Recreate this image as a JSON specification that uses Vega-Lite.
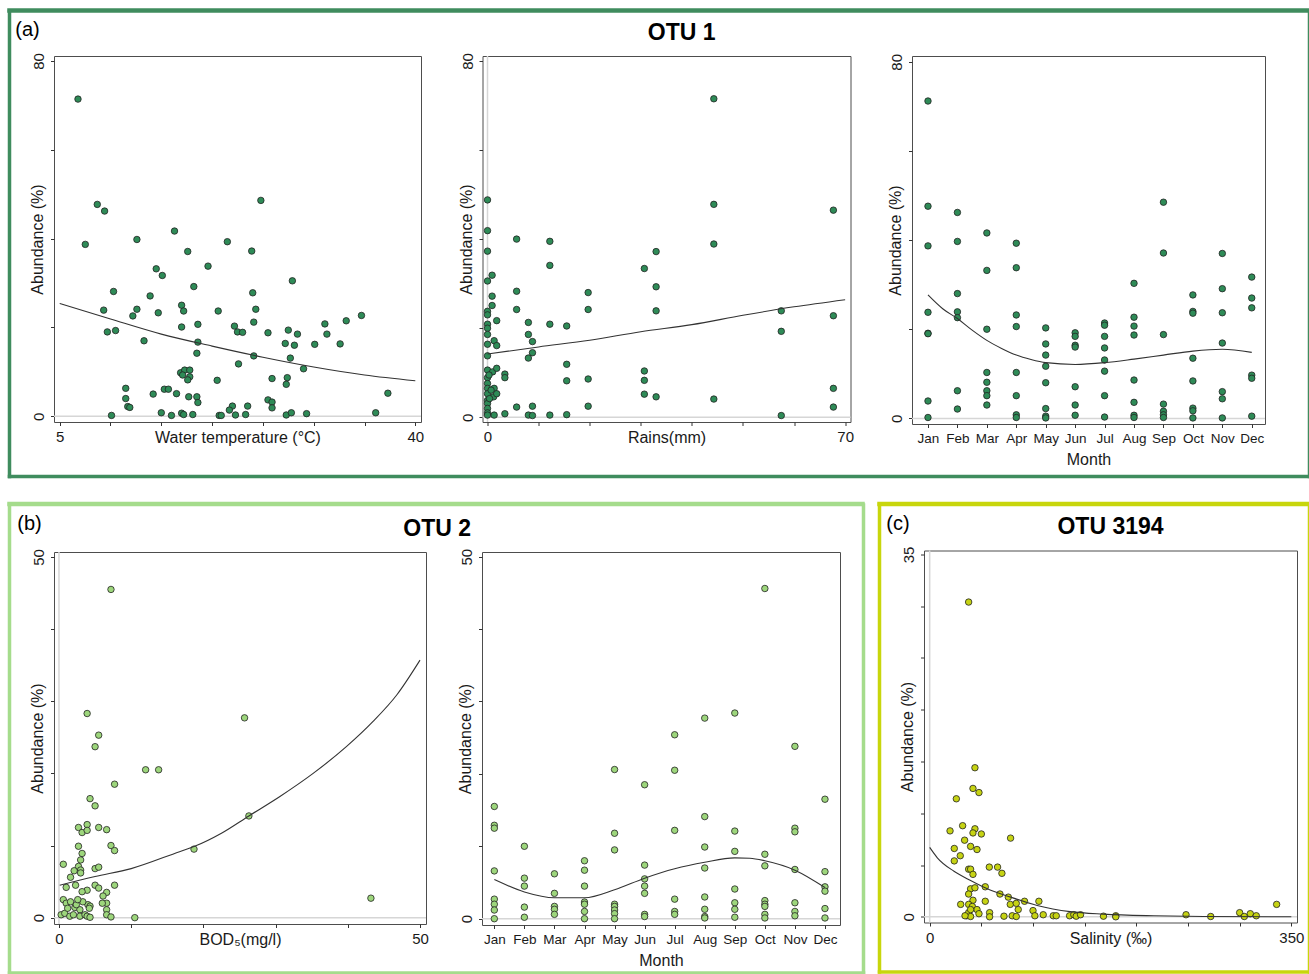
{
"$schema": "https://vega.github.io/schema/vega-lite/v6.json",
"padding": {"left": 4, "top": 6, "right": 0, "bottom": 0},
"background": "white",
"config": {
  "font": "Liberation Sans",
  "view": {"stroke": "#4d4d4d", "strokeWidth": 1},
  "axis": {"domain": false, "grid": false, "tickColor": "#333333", "tickSize": 3.5, "labelFontSize": 15, "labelColor": "#1a1a1a", "titleFontSize": 16, "titleFontWeight": "normal", "titleColor": "#1a1a1a", "labelOverlap": false, "labelFlush": false},
  "axisY": {"labelAngle": -90, "labelAlign": "center", "labelBaseline": "bottom", "labelPadding": 4, "titlePadding": -14},
  "axisX": {"labelPadding": 4, "titlePadding": -15},
  "title": {"fontSize": 23, "fontWeight": "bold", "color": "#000000", "anchor": "middle"}
},
"datasets": {
  "a1": [{"x":6.8,"y":71.4},{"x":8.7,"y":47.7},{"x":9.42,"y":46.2},{"x":7.52,"y":38.7},{"x":12.6,"y":39.8},{"x":16.3,"y":41.7},{"x":24.8,"y":48.6},{"x":21.5,"y":39.3},{"x":17.6,"y":37.1},{"x":23.9,"y":37.2},{"x":19.6,"y":33.8},{"x":14.5,"y":33.2},{"x":15.1,"y":31.7},{"x":27.9,"y":30.5},{"x":18.2,"y":29.2},{"x":10.3,"y":28.1},{"x":13.9,"y":27.1},{"x":24.0,"y":27.8},{"x":9.33,"y":23.9},{"x":12.6,"y":24.1},{"x":12.2,"y":22.6},{"x":14.7,"y":23.3},{"x":17.0,"y":25.0},{"x":17.2,"y":23.7},{"x":20.6,"y":23.7},{"x":24.3,"y":24.1},{"x":24.1,"y":21.2},{"x":18.6,"y":20.7},{"x":22.2,"y":20.3},{"x":22.5,"y":19.0},{"x":23.0,"y":18.9},{"x":17.0,"y":20.1},{"x":9.69,"y":19.0},{"x":10.5,"y":19.3},{"x":25.5,"y":18.8},{"x":27.5,"y":19.4},{"x":28.4,"y":18.5},{"x":31.1,"y":20.8},{"x":31.3,"y":18.5},{"x":33.2,"y":21.5},{"x":34.7,"y":22.7},{"x":13.3,"y":17.0},{"x":18.6,"y":16.7},{"x":18.5,"y":14.2},{"x":27.2,"y":16.4},{"x":28.1,"y":16.0},{"x":30.1,"y":16.2},{"x":32.6,"y":16.3},{"x":24.1,"y":13.6},{"x":27.7,"y":13.1},{"x":22.6,"y":11.8},{"x":29.0,"y":10.7},{"x":16.9,"y":9.8},{"x":17.3,"y":10.4},{"x":17.8,"y":10.4},{"x":17.8,"y":8.9},{"x":17.6,"y":8.2},{"x":17.1,"y":9.3},{"x":20.5,"y":8.1},{"x":25.9,"y":8.5},{"x":27.4,"y":8.7},{"x":27.3,"y":7.2},{"x":11.5,"y":6.3},{"x":15.3,"y":6.1},{"x":15.7,"y":6.1},{"x":14.2,"y":5.0},{"x":16.5,"y":5.1},{"x":17.7,"y":4.4},{"x":18.5,"y":4.4},{"x":18.6,"y":3.1},{"x":11.5,"y":4.0},{"x":11.7,"y":2.2},{"x":11.9,"y":2.0},{"x":25.5,"y":3.7},{"x":25.9,"y":3.2},{"x":25.9,"y":1.9},{"x":23.5,"y":2.3},{"x":22.0,"y":2.3},{"x":21.7,"y":1.4},{"x":37.3,"y":5.2},{"x":36.1,"y":0.8},{"x":10.1,"y":0.2},{"x":15.0,"y":0.8},{"x":16.0,"y":0.2},{"x":17.0,"y":0.7},{"x":17.2,"y":0.4},{"x":18.1,"y":0.4},{"x":20.7,"y":0.2},{"x":20.9,"y":0.2},{"x":22.3,"y":0.3},{"x":23.3,"y":0.4},{"x":27.3,"y":0.3},{"x":27.8,"y":0.8},{"x":29.3,"y":0.6}],
  "a1fit": [{"x":5,"y":25.4},{"x":10,"y":21.9},{"x":15,"y":18.5},{"x":20,"y":15.8},{"x":25,"y":13.3},{"x":30,"y":11.1},{"x":35,"y":9.3},{"x":40,"y":8.0}],
  "a2": [{"x":44.3,"y":71.5},{"x":44.3,"y":47.8},{"x":44.3,"y":38.9},{"x":67.7,"y":46.5},{"x":0,"y":48.8},{"x":0,"y":41.9},{"x":0,"y":37.3},{"x":0,"y":30.6},{"x":0.9,"y":31.9},{"x":0.9,"y":27.2},{"x":0.9,"y":25.1},{"x":0,"y":23.8},{"x":0,"y":23.0},{"x":0,"y":20.9},{"x":0,"y":20.0},{"x":0,"y":18.6},{"x":0,"y":16.4},{"x":0,"y":13.8},{"x":1.3,"y":17.2},{"x":1.8,"y":16.1},{"x":1.8,"y":21.7},{"x":5.7,"y":40.0},{"x":5.7,"y":28.3},{"x":5.7,"y":24.2},{"x":12.2,"y":39.5},{"x":12.2,"y":34.1},{"x":12.2,"y":20.9},{"x":8.0,"y":21.3},{"x":8.0,"y":18.6},{"x":8.8,"y":17.0},{"x":8.8,"y":14.5},{"x":8.0,"y":13.3},{"x":15.5,"y":20.5},{"x":15.5,"y":11.9},{"x":15.5,"y":8.2},{"x":19.7,"y":28.0},{"x":19.7,"y":24.2},{"x":19.7,"y":8.6},{"x":19.7,"y":2.5},{"x":30.7,"y":33.4},{"x":33.0,"y":37.2},{"x":33.0,"y":29.3},{"x":33.0,"y":23.9},{"x":30.7,"y":10.4},{"x":30.7,"y":8.3},{"x":30.7,"y":5.2},{"x":33.0,"y":4.6},{"x":44.3,"y":4.1},{"x":57.5,"y":23.9},{"x":57.5,"y":19.3},{"x":57.5,"y":0.4},{"x":67.7,"y":22.8},{"x":67.7,"y":6.5},{"x":67.7,"y":2.3},{"x":0,"y":10.6},{"x":0,"y":8.9},{"x":0,"y":7.6},{"x":0,"y":6.5},{"x":0,"y":5.3},{"x":0,"y":3.8},{"x":0,"y":3.1},{"x":0,"y":2.0},{"x":0,"y":1.0},{"x":0,"y":0.5},{"x":1.0,"y":10.2},{"x":1.3,"y":6.5},{"x":1.2,"y":4.6},{"x":1.8,"y":5.3},{"x":1.8,"y":11.0},{"x":1.3,"y":0.5},{"x":3.4,"y":9.7},{"x":3.4,"y":8.9},{"x":3.4,"y":0.8},{"x":5.7,"y":2.3},{"x":8.0,"y":0.5},{"x":8.8,"y":2.5},{"x":8.8,"y":0.4},{"x":12.2,"y":0.5},{"x":15.5,"y":0.6},{"x":0.7,"y":6.1},{"x":0.4,"y":4.2},{"x":0.3,"y":9.5}],
  "a2fit": [{"x":0,"y":14.2},{"x":10,"y":15.8},{"x":20,"y":17.3},{"x":30,"y":19.2},{"x":40,"y":20.8},{"x":50,"y":22.9},{"x":60,"y":24.8},{"x":70,"y":26.4}],
  "a3": [{"m":1,"y":71.2},{"m":1,"y":47.6},{"m":1,"y":38.7},{"m":1,"y":23.8},{"m":1,"y":19.1},{"m":1,"y":19.0},{"m":1,"y":3.9},{"m":1,"y":0.2},
         {"m":2,"y":46.2},{"m":2,"y":39.7},{"m":2,"y":28.0},{"m":2,"y":23.9},{"m":2,"y":22.6},{"m":2,"y":6.2},{"m":2,"y":2.1},
         {"m":3,"y":41.6},{"m":3,"y":33.2},{"m":3,"y":20.0},{"m":3,"y":10.3},{"m":3,"y":8.1},{"m":3,"y":6.2},{"m":3,"y":5.1},{"m":3,"y":3.0},
         {"m":4,"y":39.3},{"m":4,"y":33.8},{"m":4,"y":23.2},{"m":4,"y":20.6},{"m":4,"y":10.3},{"m":4,"y":5.1},{"m":4,"y":0.8},{"m":4,"y":0.2},
         {"m":5,"y":20.3},{"m":5,"y":16.7},{"m":5,"y":14.2},{"m":5,"y":11.7},{"m":5,"y":8.0},{"m":5,"y":2.2},{"m":5,"y":0.5},{"m":5,"y":0.1},
         {"m":6,"y":19.2},{"m":6,"y":18.4},{"m":6,"y":16.4},{"m":6,"y":16.0},{"m":6,"y":7.1},{"m":6,"y":3.0},{"m":6,"y":0.7},
         {"m":7,"y":21.4},{"m":7,"y":20.9},{"m":7,"y":18.4},{"m":7,"y":15.8},{"m":7,"y":13.1},{"m":7,"y":10.6},{"m":7,"y":5.1},{"m":7,"y":0.3},
         {"m":8,"y":30.3},{"m":8,"y":22.7},{"m":8,"y":20.7},{"m":8,"y":18.7},{"m":8,"y":8.6},{"m":8,"y":3.6},{"m":8,"y":0.7},{"m":8,"y":0.2},
         {"m":9,"y":48.5},{"m":9,"y":37.1},{"m":9,"y":18.8},{"m":9,"y":3.2},{"m":9,"y":1.6},{"m":9,"y":0.8},{"m":9,"y":0.2},
         {"m":10,"y":27.7},{"m":10,"y":24.0},{"m":10,"y":23.6},{"m":10,"y":13.5},{"m":10,"y":8.4},{"m":10,"y":2.3},{"m":10,"y":1.7},{"m":10,"y":0.1},
         {"m":11,"y":37.0},{"m":11,"y":29.1},{"m":11,"y":23.7},{"m":11,"y":16.9},{"m":11,"y":6.0},{"m":11,"y":4.4},{"m":11,"y":0.1},
         {"m":12,"y":31.7},{"m":12,"y":27.0},{"m":12,"y":24.8},{"m":12,"y":9.7},{"m":12,"y":9.0},{"m":12,"y":0.5}],
  "a3fit": [{"m":1,"y":27.7},{"m":1.5,"y":24.6},{"m":2,"y":22.4},{"m":2.5,"y":19.8},{"m":3,"y":17.5},{"m":3.5,"y":15.7},{"m":4,"y":14.2},{"m":4.5,"y":13.2},{"m":5,"y":12.5},{"m":6,"y":12.1},{"m":7,"y":12.5},{"m":8,"y":13.3},{"m":9,"y":14.2},{"m":10,"y":15.1},{"m":11,"y":15.5},{"m":12,"y":14.8}],
  "b1": [{"x":7.2,"y":45.5},{"x":3.9,"y":28.3},{"x":5.5,"y":25.3},{"x":5.0,"y":23.7},{"x":25.7,"y":27.7},{"x":12.0,"y":20.5},{"x":13.8,"y":20.5},{"x":7.7,"y":18.5},{"x":4.3,"y":16.5},{"x":5.0,"y":15.5},{"x":26.3,"y":14.1},{"x":2.7,"y":12.5},{"x":3.9,"y":12.9},{"x":3.2,"y":11.8},{"x":3.9,"y":12.1},{"x":5.5,"y":12.5},{"x":6.6,"y":12.2},{"x":7.2,"y":10.0},{"x":7.7,"y":9.3},{"x":2.7,"y":9.9},{"x":3.2,"y":8.9},{"x":18.7,"y":9.5},{"x":0.6,"y":7.4},{"x":3.0,"y":8.0},{"x":2.7,"y":7.1},{"x":2.1,"y":6.5},{"x":3.0,"y":6.6},{"x":3.0,"y":6.2},{"x":1.6,"y":5.6},{"x":2.3,"y":4.5},{"x":5.0,"y":6.8},{"x":5.5,"y":7.0},{"x":1.0,"y":4.2},{"x":5.0,"y":4.5},{"x":5.5,"y":4.1},{"x":3.9,"y":3.8},{"x":3.2,"y":3.6},{"x":7.7,"y":4.5},{"x":6.6,"y":3.5},{"x":6.1,"y":3.0},{"x":6.6,"y":2.0},{"x":0.6,"y":2.5},{"x":1.0,"y":2.0},{"x":1.6,"y":2.2},{"x":2.2,"y":1.4},{"x":2.9,"y":1.1},{"x":4.0,"y":1.8},{"x":4.3,"y":1.6},{"x":4.2,"y":1.3},{"x":3.3,"y":2.2},{"x":6.0,"y":2.0},{"x":6.6,"y":1.1},{"x":0.3,"y":0.4},{"x":0.8,"y":0.6},{"x":1.5,"y":0.2},{"x":2.0,"y":0.4},{"x":2.9,"y":0.2},{"x":3.6,"y":0.4},{"x":3.9,"y":0.2},{"x":4.3,"y":0.05},{"x":6.6,"y":0.4},{"x":7.2,"y":0.1},{"x":10.5,"y":0},{"x":43.2,"y":2.7},{"x":2.4,"y":1.8},{"x":1.2,"y":1.3},{"x":2.6,"y":2.5}],
  "b1fit": [{"x":0.1,"y":4.5},{"x":5,"y":5.7},{"x":10,"y":6.8},{"x":16.7,"y":9.15},{"x":18.7,"y":9.85},{"x":22.5,"y":11.7},{"x":26.3,"y":14.1},{"x":30.6,"y":16.8},{"x":35.2,"y":20.0},{"x":39.8,"y":23.7},{"x":43.5,"y":27.2},{"x":46.8,"y":30.9},{"x":50,"y":35.7}],
  "b2": [{"m":1,"y":15.5},{"m":1,"y":12.9},{"m":1,"y":12.5},{"m":1,"y":6.6},{"m":1,"y":2.7},{"m":1,"y":2.0},{"m":1,"y":1.2},{"m":1,"y":0},
         {"m":2,"y":10.0},{"m":2,"y":5.6},{"m":2,"y":4.5},{"m":2,"y":1.6},{"m":2,"y":0.2},
         {"m":3,"y":6.2},{"m":3,"y":3.5},{"m":3,"y":1.7},{"m":3,"y":1.3},{"m":3,"y":0.6},
         {"m":4,"y":8.0},{"m":4,"y":6.7},{"m":4,"y":4.5},{"m":4,"y":2.3},{"m":4,"y":2.0},{"m":4,"y":1.0},{"m":4,"y":0},
         {"m":5,"y":20.6},{"m":5,"y":11.8},{"m":5,"y":9.5},{"m":5,"y":2.0},{"m":5,"y":1.7},{"m":5,"y":1.2},{"m":5,"y":0.7},{"m":5,"y":0},
         {"m":6,"y":18.5},{"m":6,"y":7.4},{"m":6,"y":5.5},{"m":6,"y":4.5},{"m":6,"y":3.5},{"m":6,"y":0.6},{"m":6,"y":0.3},
         {"m":7,"y":25.4},{"m":7,"y":20.5},{"m":7,"y":12.2},{"m":7,"y":2.7},{"m":7,"y":1.0},{"m":7,"y":0.6},
         {"m":8,"y":27.7},{"m":8,"y":14.1},{"m":8,"y":9.9},{"m":8,"y":7.0},{"m":8,"y":3.0},{"m":8,"y":1.3},{"m":8,"y":0.3},{"m":8,"y":0.1},
         {"m":9,"y":28.4},{"m":9,"y":12.1},{"m":9,"y":9.3},{"m":9,"y":4.1},{"m":9,"y":2.2},{"m":9,"y":1.3},{"m":9,"y":0.2},
         {"m":10,"y":45.6},{"m":10,"y":8.9},{"m":10,"y":7.3},{"m":10,"y":2.5},{"m":10,"y":2.0},{"m":10,"y":1.7},{"m":10,"y":0.6},{"m":10,"y":0.1},
         {"m":11,"y":23.8},{"m":11,"y":12.5},{"m":11,"y":12.0},{"m":11,"y":6.8},{"m":11,"y":2.2},{"m":11,"y":1.0},{"m":11,"y":0.4},
         {"m":12,"y":16.5},{"m":12,"y":6.5},{"m":12,"y":4.4},{"m":12,"y":3.8},{"m":12,"y":1.4},{"m":12,"y":0.1}],
  "b2fit": [{"m":1,"y":5.4},{"m":2,"y":3.7},{"m":3,"y":2.9},{"m":4,"y":2.9},{"m":5,"y":4.0},{"m":6,"y":5.6},{"m":7,"y":6.9},{"m":8,"y":7.8},{"m":9,"y":8.4},{"m":9.5,"y":8.35},{"m":10,"y":8.0},{"m":11,"y":6.7},{"m":12,"y":4.3}],
  "c": [{"x":37.7,"y":30.4},{"x":43.8,"y":14.4},{"x":41.9,"y":12.4},{"x":47.7,"y":12.0},{"x":25.8,"y":11.4},{"x":31.9,"y":8.8},{"x":19.7,"y":8.3},{"x":43.8,"y":8.5},{"x":41.9,"y":8.1},{"x":50.0,"y":8.0},{"x":33.8,"y":7.4},{"x":78.3,"y":7.6},{"x":23.8,"y":6.6},{"x":39.6,"y":6.8},{"x":45.8,"y":6.5},{"x":29.6,"y":5.9},{"x":23.8,"y":5.4},{"x":37.7,"y":4.6},{"x":39.6,"y":4.6},{"x":41.9,"y":4.1},{"x":57.7,"y":4.8},{"x":65.7,"y":4.8},{"x":69.9,"y":4.2},{"x":53.8,"y":2.9},{"x":39.6,"y":2.7},{"x":43.8,"y":2.8},{"x":37.7,"y":2.2},{"x":41.9,"y":1.6},{"x":68.0,"y":2.2},{"x":76.1,"y":1.9},{"x":53.8,"y":1.5},{"x":30.0,"y":1.2},{"x":37.7,"y":1.2},{"x":41.3,"y":1.0},{"x":45.8,"y":0.7},{"x":47.7,"y":0.3},{"x":35.8,"y":0.1},{"x":37.7,"y":0.4},{"x":39.6,"y":0.03},{"x":78.0,"y":1.2},{"x":83.8,"y":1.3},{"x":85.7,"y":0.7},{"x":91.8,"y":1.5},{"x":100,"y":0.6},{"x":105.7,"y":1.5},{"x":58.0,"y":0.4},{"x":58.0,"y":0},{"x":71.9,"y":0.06},{"x":79.9,"y":0.1},{"x":83.8,"y":0.03},{"x":101.8,"y":0.1},{"x":109.9,"y":0.2},{"x":119.6,"y":0.1},{"x":122.5,"y":0.1},{"x":135.4,"y":0.1},{"x":139.5,"y":0.2},{"x":141.8,"y":0.06},{"x":146,"y":0.2},{"x":168.2,"y":0.06},{"x":180.1,"y":0.1},{"x":180.1,"y":0},{"x":248.1,"y":0.2},{"x":272.0,"y":0.03},{"x":300,"y":0.4},{"x":304.5,"y":0.03},{"x":310.3,"y":0.3},{"x":316.1,"y":0.1},{"x":335.8,"y":1.2},{"x":34.2,"y":0.1},{"x":39.6,"y":0.7}],
  "cfit": [{"x":0,"y":6.7},{"x":7.4,"y":5.7},{"x":23.5,"y":4.4},{"x":39.6,"y":3.5},{"x":55.8,"y":2.7},{"x":78.3,"y":1.9},{"x":104,"y":1.1},{"x":136,"y":0.5},{"x":168,"y":0.26},{"x":217,"y":0.1},{"x":265,"y":0.03},{"x":350,"y":0}]
},
"vconcat": [
  {
    "bounds": "flush",
    "spacing": 45,
    "vconcat": [
      {
        "width": 1300, "height": 1,
        "view": {"stroke": "#3f8c5e", "strokeWidth": 3.5},
        "title": {"text": "(a)", "anchor": "start", "fontSize": 20, "fontWeight": "normal", "offset": -32, "dx": 9},
        "data": {"values": [{}]},
        "mark": {"type": "point", "opacity": 0},
        "encoding": {
          "x": {"datum": 0, "type": "quantitative", "scale": {"domain": [0, 1], "nice": false, "zero": false}, "axis": {"orient": "bottom", "values": [0, 1], "tickSize": 465, "tickColor": "#3f8c5e", "tickWidth": 3.5, "tickCap": "square", "labels": false, "domain": false, "title": null}},
          "y": {"datum": 0, "type": "quantitative", "scale": {"domain": [0, 1], "nice": false, "zero": false}, "axis": {"orient": "left", "values": [1], "position": 466, "offset": -1300, "tickSize": 1300, "tickColor": "#3f8c5e", "tickWidth": 3.5, "tickCap": "square", "labels": false, "domain": false, "title": null}}
        }
      },
      {
        "spacing": 0,
        "hconcat": [
          {"width": 20, "height": 1, "view": {"stroke": null}, "data": {"values": [{}]}, "mark": {"type": "point", "opacity": 0}, "encoding": {}},
          {
            "title": {"text": "OTU 1", "dx": 34, "offset": 7},
            "spacing": 32.5,
            "hconcat": [
              {
                "width": 367, "height": 366,
                "layer": [
                  {"data": {"values": [{}]}, "mark": {"type": "rule", "color": "#d6d6d6", "strokeWidth": 1.5}, "encoding": {"y": {"datum": 0}}},
                  {"data": {"name": "a1"}, "mark": {"type": "circle", "size": 42, "color": "#2e8b57", "stroke": "#222222", "strokeWidth": 0.8, "opacity": 1},
                   "encoding": {
                     "x": {"field": "x", "type": "quantitative", "scale": {"domain": [4.44, 40.56], "nice": false, "zero": false},
                           "axis": {"title": "Water temperature (°C)", "values": [5,10,15,20,25,30,35,40], "tickCount": 20, "labelOverlap": false, "labelExpr": "datum.value == 5 || datum.value == 40 ? datum.label : ''"}},
                     "y": {"field": "y", "type": "quantitative", "scale": {"domain": [-1.28, 81.1], "nice": false, "zero": false},
                           "axis": {"title": "Abundance (%)", "values": [0,20,40,60,80], "tickCount": 20, "labelOverlap": false, "labelExpr": "datum.value == 0 || datum.value == 80 ? datum.label : ''"}}
                   }},
                  {"data": {"name": "a1fit"}, "mark": {"type": "line", "color": "#333333", "strokeWidth": 1.1, "interpolate": "monotone"},
                   "encoding": {"x": {"field": "x", "type": "quantitative"}, "y": {"field": "y", "type": "quantitative"}}}
                ]
              },
              {
                "width": 368, "height": 366,
                "layer": [
                  {"data": {"values": [{}]}, "mark": {"type": "rule", "color": "#d6d6d6", "strokeWidth": 1.5}, "encoding": {"y": {"datum": 0}}},
                  {"data": {"values": [{}]}, "mark": {"type": "rule", "color": "#d6d6d6", "strokeWidth": 1.5}, "encoding": {"x": {"datum": 0}}},
                  {"data": {"name": "a2"}, "mark": {"type": "circle", "size": 42, "color": "#2e8b57", "stroke": "#222222", "strokeWidth": 0.8, "opacity": 1},
                   "encoding": {
                     "x": {"field": "x", "type": "quantitative", "scale": {"domain": [-0.98, 71.05], "nice": false, "zero": false},
                           "axis": {"title": "Rains(mm)", "values": [0,10,20,30,40,50,60,70], "tickCount": 20, "labelOverlap": false, "labelExpr": "datum.value == 0 || datum.value == 70 ? datum.label : ''"}},
                     "y": {"field": "y", "type": "quantitative", "scale": {"domain": [-1.05, 81.1], "nice": false, "zero": false},
                           "axis": {"title": "Abundance (%)", "values": [0,20,40,60,80], "tickCount": 20, "labelOverlap": false, "labelExpr": "datum.value == 0 || datum.value == 80 ? datum.label : ''"}}
                   }},
                  {"data": {"name": "a2fit"}, "mark": {"type": "line", "color": "#333333", "strokeWidth": 1.1, "interpolate": "monotone"},
                   "encoding": {"x": {"field": "x", "type": "quantitative"}, "y": {"field": "y", "type": "quantitative"}}}
                ]
              },
              {
                "width": 353, "height": 368,
                "layer": [
                  {"data": {"values": [{}]}, "mark": {"type": "rule", "color": "#d6d6d6", "strokeWidth": 1.5}, "encoding": {"y": {"datum": 0}}},
                  {"data": {"name": "a3"}, "mark": {"type": "circle", "size": 42, "color": "#2e8b57", "stroke": "#222222", "strokeWidth": 0.8, "opacity": 1},
                   "encoding": {
                     "x": {"field": "m", "type": "quantitative", "scale": {"domain": [0.457, 12.45], "nice": false, "zero": false},
                           "axis": {"title": "Month", "titlePadding": 6, "labelFontSize": 13.5, "tickCount": 30, "labelOverlap": false, "labelSeparation": 0, "values": [1,2,3,4,5,6,7,8,9,10,11,12], "labelExpr": "['Jan','Feb','Mar','Apr','May','Jun','Jul','Aug','Sep','Oct','Nov','Dec'][datum.value - 1]"}},
                     "y": {"field": "y", "type": "quantitative", "scale": {"domain": [-1.26, 81.3], "nice": false, "zero": false},
                           "axis": {"title": "Abundance (%)", "values": [0,20,40,60,80], "tickCount": 20, "labelOverlap": false, "labelExpr": "datum.value == 0 || datum.value == 80 ? datum.label : ''"}}
                   }},
                  {"data": {"name": "a3fit"}, "mark": {"type": "line", "color": "#333333", "strokeWidth": 1.1, "interpolate": "monotone"},
                   "encoding": {"x": {"field": "m", "type": "quantitative"}, "y": {"field": "y", "type": "quantitative"}}}
                ]
              }
            ]
          }
        ]
      }
    ]
  },
  {
    "spacing": 6,
    "hconcat": [
      {
        "bounds": "flush",
        "spacing": 47.5,
        "vconcat": [
          {
            "width": 854, "height": 1,
            "view": {"stroke": "#a5dc8c", "strokeWidth": 3.5},
            "title": {"text": "(b)", "anchor": "start", "fontSize": 20, "fontWeight": "normal", "offset": -32, "dx": 11},
            "data": {"values": [{}]},
            "mark": {"type": "point", "opacity": 0},
            "encoding": {
              "x": {"datum": 0, "type": "quantitative", "scale": {"domain": [0, 1], "nice": false, "zero": false}, "axis": {"orient": "bottom", "values": [0, 1], "tickSize": 468, "tickColor": "#a5dc8c", "tickWidth": 3.5, "tickCap": "square", "labels": false, "domain": false, "title": null}},
              "y": {"datum": 0, "type": "quantitative", "scale": {"domain": [0, 1], "nice": false, "zero": false}, "axis": {"orient": "left", "values": [1], "position": 469, "offset": -854, "tickSize": 854, "tickColor": "#a5dc8c", "tickWidth": 3.5, "tickCap": "square", "labels": false, "domain": false, "title": null}}
            }
          },
          {
            "spacing": 0,
            "hconcat": [
              {"width": 20, "height": 1, "view": {"stroke": null}, "data": {"values": [{}]}, "mark": {"type": "point", "opacity": 0}, "encoding": {}},
              {
                "title": {"text": "OTU 2", "dx": 2, "offset": 7},
                "spacing": 28,
                "hconcat": [
                  {
                    "width": 372, "height": 372,
                    "layer": [
                      {"data": {"values": [{}]}, "mark": {"type": "rule", "color": "#d6d6d6", "strokeWidth": 1.5}, "encoding": {"y": {"datum": 0}}},
                      {"data": {"values": [{}]}, "mark": {"type": "rule", "color": "#d6d6d6", "strokeWidth": 1.5}, "encoding": {"x": {"datum": 0}}},
                      {"data": {"name": "b1"}, "mark": {"type": "circle", "size": 42, "color": "#9dd67c", "stroke": "#222222", "strokeWidth": 0.8, "opacity": 1},
                       "encoding": {
                         "x": {"field": "x", "type": "quantitative", "scale": {"domain": [-0.69, 50.83], "nice": false, "zero": false},
                               "axis": {"title": "BOD₅(mg/l)", "values": [0,10,20,30,40,50], "tickCount": 20, "labelOverlap": false, "labelExpr": "datum.value == 0 || datum.value == 50 ? datum.label : ''"}},
                         "y": {"field": "y", "type": "quantitative", "scale": {"domain": [-0.88, 50.69], "nice": false, "zero": false},
                               "axis": {"title": "Abundance (%)", "values": [0,10,20,30,40,50], "tickCount": 20, "labelOverlap": false, "labelExpr": "datum.value == 0 || datum.value == 50 ? datum.label : ''"}}
                       }},
                      {"data": {"name": "b1fit"}, "mark": {"type": "line", "color": "#333333", "strokeWidth": 1.1, "interpolate": "monotone"},
                       "encoding": {"x": {"field": "x", "type": "quantitative"}, "y": {"field": "y", "type": "quantitative"}}}
                    ]
                  },
                  {
                    "width": 358, "height": 373,
                    "layer": [
                      {"data": {"values": [{}]}, "mark": {"type": "rule", "color": "#d6d6d6", "strokeWidth": 1.5}, "encoding": {"y": {"datum": 0}}},
                      {"data": {"name": "b2"}, "mark": {"type": "circle", "size": 42, "color": "#9dd67c", "stroke": "#222222", "strokeWidth": 0.8, "opacity": 1},
                       "encoding": {
                         "x": {"field": "m", "type": "quantitative", "scale": {"domain": [0.59, 12.5], "nice": false, "zero": false},
                               "axis": {"title": "Month", "titlePadding": 6, "labelFontSize": 13.5, "tickCount": 30, "labelOverlap": false, "labelSeparation": 0, "values": [1,2,3,4,5,6,7,8,9,10,11,12], "labelExpr": "['Jan','Feb','Mar','Apr','May','Jun','Jul','Aug','Sep','Oct','Nov','Dec'][datum.value - 1]"}},
                         "y": {"field": "y", "type": "quantitative", "scale": {"domain": [-0.87, 50.64], "nice": false, "zero": false},
                               "axis": {"title": "Abundance (%)", "values": [0,10,20,30,40,50], "tickCount": 20, "labelOverlap": false, "labelExpr": "datum.value == 0 || datum.value == 50 ? datum.label : ''"}}
                       }},
                      {"data": {"name": "b2fit"}, "mark": {"type": "line", "color": "#333333", "strokeWidth": 1.1, "interpolate": "monotone"},
                       "encoding": {"x": {"field": "m", "type": "quantitative"}, "y": {"field": "y", "type": "quantitative"}}}
                    ]
                  }
                ]
              }
            ]
          }
        ]
      },
      {
        "bounds": "flush",
        "spacing": 46,
        "vconcat": [
          {
            "width": 430, "height": 1,
            "view": {"stroke": "#c8d60c", "strokeWidth": 3.5},
            "title": {"text": "(c)", "anchor": "start", "fontSize": 20, "fontWeight": "normal", "offset": -32, "dx": 10},
            "data": {"values": [{}]},
            "mark": {"type": "point", "opacity": 0},
            "encoding": {
              "x": {"datum": 0, "type": "quantitative", "scale": {"domain": [0, 1], "nice": false, "zero": false}, "axis": {"orient": "bottom", "values": [0, 1], "tickSize": 467, "tickColor": "#c8d60c", "tickWidth": 3.5, "tickCap": "square", "labels": false, "domain": false, "title": null}},
              "y": {"datum": 0, "type": "quantitative", "scale": {"domain": [0, 1], "nice": false, "zero": false}, "axis": {"orient": "left", "values": [1], "position": 468, "offset": -430, "tickSize": 430, "tickColor": "#c8d60c", "tickWidth": 3.5, "tickCap": "square", "labels": false, "domain": false, "title": null}}
            }
          },
          {
            "spacing": 0,
            "hconcat": [
              {"width": 19.6, "height": 1, "view": {"stroke": null}, "data": {"values": [{}]}, "mark": {"type": "point", "opacity": 0}, "encoding": {}},
              {
                "title": {"text": "OTU 3194", "dx": 0, "offset": 7},
                "width": 373, "height": 372,
                "layer": [
                  {"data": {"values": [{}]}, "mark": {"type": "rule", "color": "#d6d6d6", "strokeWidth": 1.5}, "encoding": {"y": {"datum": 0}}},
                  {"data": {"values": [{}]}, "mark": {"type": "rule", "color": "#d6d6d6", "strokeWidth": 1.5}, "encoding": {"x": {"datum": 0}}},
                  {"data": {"name": "c"}, "mark": {"type": "circle", "size": 42, "color": "#c6d313", "stroke": "#222222", "strokeWidth": 0.8, "opacity": 1},
                   "encoding": {
                     "x": {"field": "x", "type": "quantitative", "scale": {"domain": [-5.5, 355.5], "nice": false, "zero": false},
                           "axis": {"title": "Salinity (‰)", "values": [0,50,100,150,200,250,300,350], "tickCount": 20, "labelOverlap": false, "labelExpr": "datum.value == 0 || datum.value == 350 ? datum.label : ''"}},
                     "y": {"field": "y", "type": "quantitative", "scale": {"domain": [-0.55, 35.38], "nice": false, "zero": false},
                           "axis": {"title": "Abundance (%)", "values": [0,5,10,15,20,25,30,35], "tickCount": 20, "labelOverlap": false, "labelExpr": "datum.value == 0 || datum.value == 35 ? datum.label : ''"}}
                   }},
                  {"data": {"name": "cfit"}, "mark": {"type": "line", "color": "#333333", "strokeWidth": 1.1, "interpolate": "monotone"},
                   "encoding": {"x": {"field": "x", "type": "quantitative"}, "y": {"field": "y", "type": "quantitative"}}}
                ]
              }
            ]
          }
        ]
      }
    ]
  }
],
"spacing": 18.5
}
